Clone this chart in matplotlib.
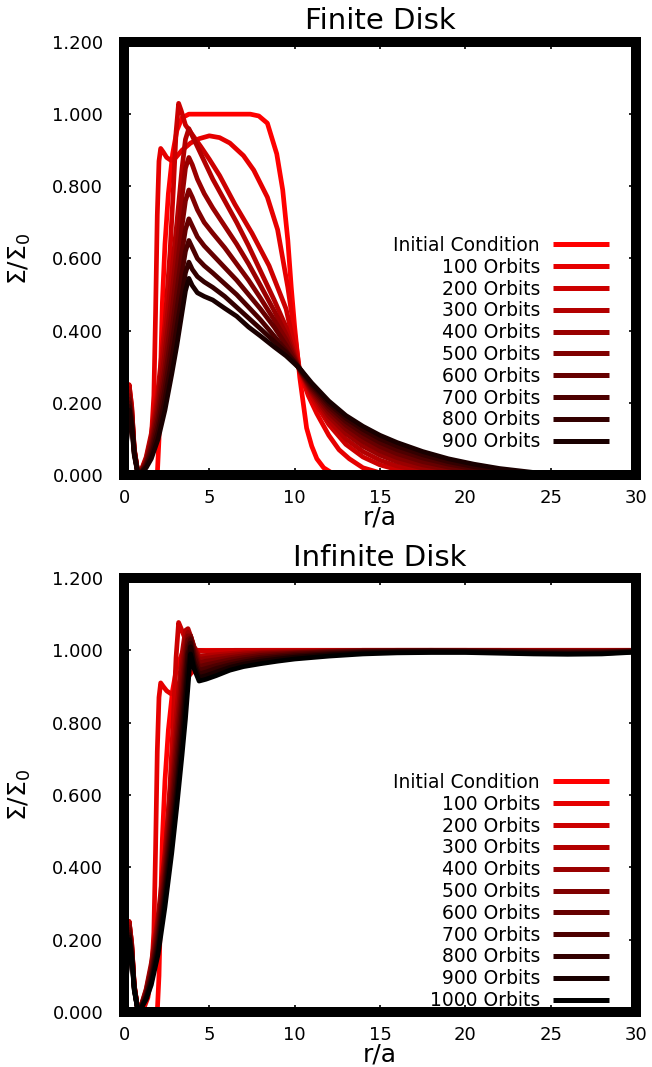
import numpy as np
import matplotlib
matplotlib.use("Agg")
import matplotlib.pyplot as plt

plt.rcParams['font.family'] = ['DejaVu Sans']
plt.rcParams['mathtext.fontset'] = 'dejavusans'

# ---------------- Finite disk data ----------------
fin_labels = ["Initial Condition", "100 Orbits", "200 Orbits", "300 Orbits", "400 Orbits",
              "500 Orbits", "600 Orbits", "700 Orbits", "800 Orbits", "900 Orbits"]

fin_x_init = [0, 1.95, 2.05, 2.15, 2.25, 2.4, 2.6, 2.85, 3.1, 3.4, 3.8, 7.4, 7.9, 8.4, 8.95, 9.3,
              9.6, 9.8, 10.0, 10.3, 10.7, 11.0, 11.3, 11.7, 12.1, 12.6, 30]
fin_y_init = [0, 0, 0.1, 0.3, 0.48, 0.64, 0.78, 0.89, 0.955, 0.99, 1.0, 1.0, 0.995, 0.975, 0.89, 0.79,
              0.65, 0.52, 0.41, 0.27, 0.13, 0.08, 0.045, 0.02, 0.008, 0, 0]

fin_x_100 = [0, 0.15, 0.3, 0.45, 0.6, 0.8, 1.0, 1.2, 1.4, 1.6, 1.75, 1.85, 1.95, 2.05, 2.15, 2.3, 2.5,
             2.75, 3.0, 3.4, 3.9, 4.4, 5.0, 5.6, 6.2, 7.0, 7.6, 8.4, 9.0, 9.6, 10.0, 10.3, 10.8, 11.3,
             12.0, 12.6, 13.2, 14.0, 15.0, 16.0, 30]
fin_y_100 = [0, 0.12, 0.25, 0.19, 0.07, 0.01, 0.005, 0.015, 0.04, 0.1, 0.22, 0.45, 0.72, 0.87, 0.905,
             0.895, 0.88, 0.872, 0.878, 0.9, 0.92, 0.932, 0.94, 0.935, 0.92, 0.885, 0.845, 0.77, 0.68,
             0.52, 0.39, 0.285, 0.22, 0.17, 0.11, 0.07, 0.045, 0.02, 0.006, 0.001, 0]

fin_x_200 = [0.0, 0.15, 0.3, 0.45, 0.6, 0.8, 1.0, 1.3, 1.6, 2.0, 2.4, 2.7, 2.9, 3.05, 3.2, 3.35, 3.6,
             3.9, 4.5, 5.0, 5.6, 6.5, 7.5, 8.5, 9.5, 10.3, 11.0, 12.0, 13.0, 14.0, 15.0, 16.0, 17.5,
             19.0, 20.5, 30.0]
fin_y_200 = [0, 0.125, 0.25, 0.19, 0.075, 0.01, 0.012, 0.05, 0.115, 0.24, 0.42, 0.62, 0.8, 0.95, 1.03,
             1.01, 0.97, 0.95, 0.91, 0.875, 0.83, 0.75, 0.67, 0.58, 0.46, 0.288, 0.215, 0.14, 0.085,
             0.05, 0.028, 0.015, 0.005, 0.001, 0, 0]

fin_x_grid = [0.0, 0.15, 0.3, 0.45, 0.6, 0.8, 1.0, 1.3, 1.6, 2.0, 2.4, 2.8, 3.1, 3.4, 3.6, 3.8, 4.0,
              4.3, 4.7, 5.2, 5.9, 6.6, 7.3, 8.0, 8.8, 9.5, 10.3, 11.0, 12.0, 13.0, 14.0, 15.0, 16.0,
              17.5, 19.0, 20.5, 22.0, 24.0, 26.0, 30.0]
fin_y_300 = [0.0, 0.12, 0.24, 0.18, 0.07, 0.01, 0.011, 0.045, 0.105, 0.22, 0.38, 0.56, 0.70, 0.85,
             0.93, 0.96, 0.94, 0.91, 0.87, 0.82, 0.76, 0.70, 0.635, 0.565, 0.485, 0.41, 0.289, 0.225,
             0.152, 0.1, 0.065, 0.041, 0.025, 0.011, 0.004, 0.001, 0.0, 0.0, 0.0, 0.0]
fin_y_400 = [0.0, 0.115, 0.23, 0.17, 0.07, 0.01, 0.01, 0.04, 0.095, 0.20, 0.34, 0.50, 0.63, 0.77,
             0.85, 0.88, 0.86, 0.82, 0.78, 0.74, 0.69, 0.64, 0.585, 0.525, 0.455, 0.39, 0.29, 0.23,
             0.163, 0.115, 0.08, 0.055, 0.037, 0.019, 0.009, 0.003, 0.001, 0.0, 0.0, 0.0]
fin_y_500 = [0.0, 0.11, 0.22, 0.165, 0.065, 0.008, 0.009, 0.036, 0.085, 0.18, 0.30, 0.45, 0.57, 0.69,
             0.76, 0.79, 0.77, 0.735, 0.70, 0.67, 0.63, 0.585, 0.54, 0.49, 0.43, 0.375, 0.291, 0.235,
             0.173, 0.127, 0.093, 0.067, 0.048, 0.028, 0.015, 0.007, 0.003, 0.0, 0.0, 0.0]
fin_y_600 = [0.0, 0.105, 0.21, 0.16, 0.065, 0.008, 0.008, 0.032, 0.075, 0.16, 0.27, 0.40, 0.51, 0.62,
             0.68, 0.71, 0.69, 0.66, 0.635, 0.61, 0.575, 0.54, 0.50, 0.46, 0.41, 0.36, 0.292, 0.24,
             0.182, 0.138, 0.105, 0.079, 0.059, 0.037, 0.022, 0.012, 0.005, 0.001, 0.0, 0.0]
fin_y_700 = [0.0, 0.10, 0.20, 0.15, 0.06, 0.007, 0.007, 0.028, 0.065, 0.14, 0.24, 0.36, 0.46, 0.56,
             0.62, 0.65, 0.63, 0.60, 0.58, 0.56, 0.53, 0.50, 0.465, 0.43, 0.385, 0.345, 0.293, 0.245,
             0.19, 0.148, 0.116, 0.09, 0.07, 0.047, 0.03, 0.017, 0.009, 0.002, 0.0, 0.0]
fin_y_800 = [0.0, 0.095, 0.19, 0.145, 0.06, 0.007, 0.006, 0.024, 0.055, 0.12, 0.21, 0.32, 0.41, 0.50,
             0.56, 0.59, 0.57, 0.55, 0.535, 0.52, 0.495, 0.465, 0.435, 0.405, 0.37, 0.34, 0.295, 0.25,
             0.198, 0.157, 0.126, 0.1, 0.08, 0.056, 0.037, 0.023, 0.013, 0.004, 0.001, 0.0]
fin_y_900 = [0.0, 0.09, 0.18, 0.135, 0.055, 0.006, 0.005, 0.02, 0.045, 0.10, 0.18, 0.28, 0.36, 0.45,
             0.51, 0.545, 0.525, 0.505, 0.495, 0.485, 0.462, 0.44, 0.41, 0.385, 0.355, 0.33, 0.295,
             0.255, 0.205, 0.165, 0.135, 0.11, 0.09, 0.065, 0.045, 0.03, 0.018, 0.007, 0.002, 0.0]

# ---------------- Infinite disk data ----------------
inf_labels = fin_labels + ["1000 Orbits"]

inf_x_init = [0, 1.95, 2.05, 2.15, 2.25, 2.4, 2.6, 2.85, 3.1, 3.4, 3.8, 30]
inf_y_init = [0, 0, 0.1, 0.3, 0.48, 0.64, 0.78, 0.89, 0.955, 0.99, 1.0, 1.0]

inf_x_100 = [0, 0.15, 0.3, 0.45, 0.6, 0.8, 1.0, 1.2, 1.4, 1.6, 1.75, 1.85, 1.95, 2.05, 2.15, 2.3, 2.5,
             2.75, 3.0, 3.4, 3.9, 4.4, 5.0, 5.6, 6.5, 8.0, 30]
inf_y_100 = [0, 0.125, 0.25, 0.19, 0.07, 0.01, 0.005, 0.015, 0.04, 0.1, 0.22, 0.45, 0.72, 0.87, 0.91,
             0.9, 0.888, 0.88, 0.888, 0.905, 0.935, 0.96, 0.98, 0.99, 0.997, 1.0, 1.0]

inf_x_200 = [0, 0.15, 0.3, 0.45, 0.6, 0.8, 1.0, 1.3, 1.6, 2.0, 2.4, 2.7, 2.9, 3.05, 3.2, 3.35, 3.6,
             3.9, 4.3, 4.8, 5.5, 6.5, 8.0, 30]
inf_y_200 = [0, 0.125, 0.25, 0.19, 0.075, 0.01, 0.012, 0.05, 0.115, 0.24, 0.42, 0.63, 0.82, 0.98,
             1.077, 1.06, 1.03, 1.01, 1.0, 0.998, 0.999, 1.0, 1.0, 1.0]

inf_x_grid = [0.0, 0.15, 0.3, 0.45, 0.6, 0.8, 1.0, 1.3, 1.6, 2.0, 2.4, 2.8, 3.1, 3.4, 3.6, 3.75, 3.9,
              4.1, 4.4, 4.8, 5.4, 6.2, 7.0, 8.0, 9.0, 10.0, 12.0, 14.0, 16.0, 18.0, 20.0, 22.0, 24.0,
              26.0, 28.0, 30.0]
inf_y_300 = [0.0, 0.125, 0.25, 0.187, 0.075, 0.009, 0.017, 0.064, 0.135, 0.265, 0.44, 0.66, 0.84,
             0.99, 1.055, 1.06, 1.04, 1.01, 0.985, 0.986, 0.988, 0.991, 0.994, 0.996, 0.997, 0.998,
             0.999, 1.0, 1.0, 1.0, 1.0, 1.0, 1.0, 1.0, 1.0, 1.0]
inf_y_400 = [0.0, 0.121, 0.242, 0.18, 0.072, 0.009, 0.016, 0.06, 0.125, 0.25, 0.41, 0.62, 0.79, 0.95,
             1.03, 1.05, 1.04, 1.01, 0.975, 0.978, 0.982, 0.986, 0.99, 0.993, 0.995, 0.996, 0.998,
             1.0, 1.0, 1.0, 1.0, 1.0, 0.999, 0.999, 0.999, 1.0]
inf_y_500 = [0.0, 0.117, 0.235, 0.176, 0.07, 0.008, 0.015, 0.055, 0.115, 0.235, 0.39, 0.59, 0.75, 0.91,
             1.0, 1.04, 1.04, 1.005, 0.965, 0.97, 0.974, 0.98, 0.985, 0.99, 0.992, 0.994, 0.997,
             0.999, 1.0, 1.0, 1.0, 0.999, 0.998, 0.998, 0.998, 0.999]
inf_y_600 = [0.0, 0.114, 0.228, 0.171, 0.068, 0.008, 0.014, 0.051, 0.107, 0.22, 0.37, 0.56, 0.71, 0.87,
             0.97, 1.03, 1.035, 0.995, 0.955, 0.96, 0.966, 0.974, 0.98, 0.986, 0.989, 0.992, 0.996,
             0.998, 0.999, 1.0, 0.999, 0.998, 0.997, 0.997, 0.997, 0.999]
inf_y_700 = [0.0, 0.11, 0.221, 0.166, 0.066, 0.008, 0.013, 0.047, 0.099, 0.205, 0.35, 0.53, 0.67, 0.83,
             0.94, 1.01, 1.03, 0.985, 0.945, 0.95, 0.958, 0.967, 0.974, 0.981, 0.985, 0.989, 0.994,
             0.997, 0.998, 0.999, 0.998, 0.997, 0.996, 0.995, 0.996, 0.998]
inf_y_800 = [0.0, 0.107, 0.214, 0.16, 0.064, 0.007, 0.012, 0.043, 0.091, 0.19, 0.33, 0.5, 0.63, 0.79,
             0.9, 0.99, 1.02, 0.97, 0.935, 0.94, 0.95, 0.96, 0.968, 0.976, 0.981, 0.985, 0.991, 0.995,
             0.997, 0.998, 0.997, 0.996, 0.994, 0.993, 0.994, 0.997]
inf_y_900 = [0.0, 0.103, 0.207, 0.155, 0.062, 0.007, 0.011, 0.039, 0.083, 0.175, 0.31, 0.47, 0.6, 0.75,
             0.86, 0.95, 1.01, 0.96, 0.925, 0.93, 0.94, 0.953, 0.962, 0.97, 0.976, 0.981, 0.988,
             0.993, 0.995, 0.996, 0.996, 0.994, 0.992, 0.991, 0.992, 0.996]
inf_y_1000 = [0.0, 0.1, 0.2, 0.15, 0.06, 0.007, 0.01, 0.035, 0.075, 0.16, 0.29, 0.44, 0.57, 0.71,
              0.81, 0.9, 0.99, 0.95, 0.915, 0.92, 0.93, 0.945, 0.955, 0.963, 0.97, 0.976, 0.984,
              0.99, 0.993, 0.994, 0.994, 0.992, 0.99, 0.989, 0.99, 0.995]

xticks = [0, 5, 10, 15, 20, 25, 30]
yticks = [0.0, 0.2, 0.4, 0.6, 0.8, 1.0, 1.2]

fin_series = [(fin_x_init, fin_y_init), (fin_x_100, fin_y_100), (fin_x_200, fin_y_200),
              (fin_x_grid, fin_y_300), (fin_x_grid, fin_y_400), (fin_x_grid, fin_y_500),
              (fin_x_grid, fin_y_600), (fin_x_grid, fin_y_700), (fin_x_grid, fin_y_800),
              (fin_x_grid, fin_y_900)]
inf_series = [(inf_x_init, inf_y_init), (inf_x_100, inf_y_100), (inf_x_200, inf_y_200),
              (inf_x_grid, inf_y_300), (inf_x_grid, inf_y_400), (inf_x_grid, inf_y_500),
              (inf_x_grid, inf_y_600), (inf_x_grid, inf_y_700), (inf_x_grid, inf_y_800),
              (inf_x_grid, inf_y_900), (inf_x_grid, inf_y_1000)]

W, H = 652, 1067
fig = plt.figure(figsize=(W / 100, H / 100), dpi=100)
ax1 = fig.add_axes([124 / W, 1 - 475 / H, 512 / W, 433 / H])
ax2 = fig.add_axes([124 / W, 1 - 1012 / H, 512 / W, 434 / H])

LEG_FS = 13.5


def draw(ax, series, labels, title, leg_top_px, ax_bottom_px, ax_h_px):
    for i, ((x, y), lab) in enumerate(zip(series, labels)):
        r = 1.0 - i / 10.0
        ax.plot(x, y, color=(r, 0, 0), lw=3.4, label=lab,
                solid_joinstyle='round', solid_capstyle='butt')
    ax.set_xlim(0, 30)
    ax.set_ylim(0, 1.2)
    ax.set_xticks(xticks)
    ax.set_xticklabels([str(t) for t in xticks])
    ax.set_yticks(yticks)
    ax.set_yticklabels(["%.3f" % t for t in yticks])
    for s in ax.spines.values():
        s.set_linewidth(7.2)
        s.set_color('black')
    ax.tick_params(axis='both', direction='in', length=5, width=1.2, top=True, right=True,
                   labelsize=13, colors='black')
    ax.tick_params(axis='y', pad=15)
    ax.tick_params(axis='x', pad=10)
    ax.set_xlabel('r/a', fontsize=18, labelpad=-1)
    ax.set_ylabel(r'$\Sigma/\Sigma_0$', fontsize=18, labelpad=14)
    ax.set_title(title, fontsize=21, pad=9)
    top_frac = (ax_bottom_px - leg_top_px) / ax_h_px
    right_frac = (609 - 124) / 512
    leg = ax.legend(loc='upper right', bbox_to_anchor=(right_frac, top_frac),
                    bbox_transform=ax.transAxes, frameon=False, markerfirst=False,
                    fontsize=LEG_FS, handlelength=56 / (LEG_FS * 100 / 72),
                    handletextpad=0.69, labelspacing=0.15, borderpad=0, borderaxespad=0)
    for ln in leg.get_lines():
        ln.set_linewidth(3.6)


draw(ax1, fin_series, fin_labels, 'Finite Disk', 236, 475, 433)
draw(ax2, inf_series, inf_labels, 'Infinite Disk', 773, 1012, 434)

fig.savefig('out.png', dpi=100)
